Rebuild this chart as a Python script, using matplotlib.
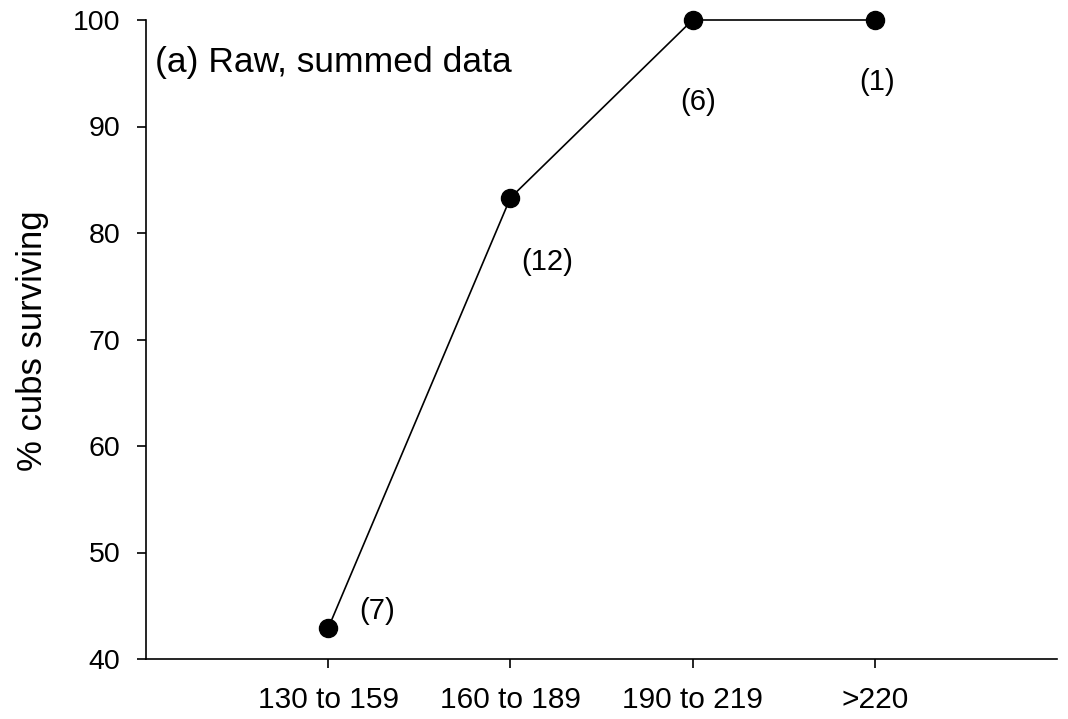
import matplotlib
matplotlib.use("Agg")
import matplotlib.pyplot as plt

categories = ["130 to 159", "160 to 189", "190 to 219", ">220"]
survival = [42.9, 83.3, 100.0, 100.0]
sample_sizes = ["(7)", "(12)", "(6)", "(1)"]
label_x = [0.27, 1.20, 2.03, 3.01]
label_y = [44.5, 77.3, 92.3, 94.2]
y_ticks = [40, 50, 60, 70, 80, 90, 100]

plt.rcParams['font.family'] = ['Liberation Sans', 'DejaVu Sans']

fig = plt.figure(figsize=(10.68, 7.19), dpi=100)
ax = fig.add_axes([146/1068, 1-659/719, (1057-146)/1068, (659-20)/719])

x = list(range(len(categories)))
ax.plot(x, survival, color='black', lw=1.2, marker='o', markersize=13,
        markerfacecolor='black', markeredgecolor='black', clip_on=False, zorder=3)

for lx, ly, s in zip(label_x, label_y, sample_sizes):
    ax.text(lx, ly, s, ha='center', va='center', fontsize=21)

ax.text(0.010, 0.934, "(a) Raw, summed data", transform=ax.transAxes,
        ha='left', va='center', fontsize=25.5)

ax.set_xlim(-1, 4)
ax.set_ylim(40, 100)
ax.set_xticks(x)
ax.set_xticklabels(categories, fontsize=21.5)
ax.set_yticks(y_ticks)
ax.set_yticklabels([str(v) for v in y_ticks], fontsize=20.5)

for s in ['top', 'right']:
    ax.spines[s].set_visible(False)
for s in ['left', 'bottom']:
    ax.spines[s].set_linewidth(1.2)
ax.tick_params(axis='both', direction='out', length=6.5, width=1.2)
ax.tick_params(axis='y', pad=12)
ax.tick_params(axis='x', pad=13)

fig.text(33/1068, 1-341/719, "% cubs surviving", rotation=90, ha='center',
         va='center', fontsize=25)

fig.savefig("out.png", dpi=100)
